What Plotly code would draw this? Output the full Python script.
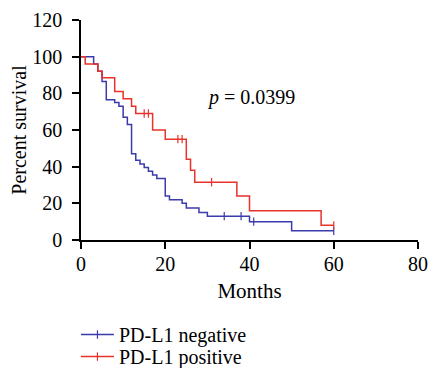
import plotly.graph_objects as go

# Kaplan-Meier step data (months, percent survival)
neg_times = [0, 3, 4, 5, 6, 8, 9, 10, 11, 12, 13, 14, 15, 16, 17, 18, 20, 21, 24, 25, 28, 30, 40, 50, 60]
neg_surv = [100, 96, 92, 86.5, 76.5, 75, 73, 67, 63, 47, 43.5, 41.5, 39.5, 37.5, 35.5, 33.5, 24, 22, 20, 17.5, 15, 13, 10, 5, 5]
neg_censored = [34, 38, 41, 60]

pos_times = [0, 1, 4, 5, 8, 10, 12, 13, 17, 20, 25, 26, 27, 37, 40, 57, 60]
pos_surv = [100, 96, 92, 88.5, 81, 77, 73, 69, 60, 55, 44, 38, 31.5, 24, 16, 8, 8]
pos_censored = [15, 16, 23, 24, 31, 60]

x_ticks = [0, 20, 40, 60, 80]
y_ticks = [0, 20, 40, 60, 80, 100, 120]

BLUE = "#3b3bab"
RED = "#e8322b"
FONT = "Liberation Serif"
FS = 20


def level_at(times, surv, t):
    val = surv[0]
    for ti, si in zip(times, surv):
        if ti <= t:
            val = si
    return val


fig = go.Figure()

for name, times, surv, cens, color, leg in [
    ("PD-L1 negative", neg_times, neg_surv, neg_censored, BLUE, "legend"),
    ("PD-L1 positive", pos_times, pos_surv, pos_censored, RED, "legend2"),
]:
    fig.add_trace(go.Scatter(
        x=times, y=surv, mode="lines", line=dict(color=color, width=1.5, shape="hv"),
        showlegend=False, hoverinfo="skip"))
    fig.add_trace(go.Scatter(
        x=cens, y=[level_at(times, surv, t) for t in cens], mode="markers",
        marker=dict(symbol="line-ns", size=6, line=dict(color=color, width=1.2)),
        showlegend=False, hoverinfo="skip"))
    fig.add_trace(go.Scatter(
        x=[None], y=[None], mode="lines+markers", name=name, legend=leg,
        line=dict(color=color, width=1.5),
        marker=dict(symbol="line-ns", size=6, line=dict(color=color, width=1.2))))

fig.add_annotation(x=29.5, y=78, xref="x", yref="y", text="<i>p</i> = 0.0399",
                   showarrow=False, xanchor="left", yanchor="middle",
                   font=dict(family=FONT, size=FS, color="black"))

axis_common = dict(showline=True, linecolor="black", linewidth=1.5, ticks="outside",
                   ticklen=7, tickwidth=1.5, tickcolor="black", showgrid=False,
                   zeroline=False, tickfont=dict(family=FONT, size=FS, color="black"),
                   automargin=False)

legend_common = dict(x=-0.015, xanchor="left", yanchor="middle", orientation="v",
                     font=dict(family=FONT, size=20, color="black"),
                     bgcolor="rgba(0,0,0,0)", itemwidth=33)

fig.update_layout(
    width=429, height=368,
    margin=dict(l=81, r=11, t=20, b=128, autoexpand=False),
    paper_bgcolor="white", plot_bgcolor="white",
    font=dict(family=FONT, size=FS, color="black"),
    xaxis=dict(range=[0, 80], tickvals=x_ticks, ticklabelstandoff=-2,
               title=dict(text="Months", standoff=10, font=dict(family=FONT, size=21)),
               **axis_common),
    yaxis=dict(range=[0, 120], tickvals=y_ticks, ticklabelstandoff=6,
               title=dict(text="Percent survival", standoff=0, font=dict(family=FONT, size=FS)),
               **axis_common),
    legend=dict(y=-0.430, **legend_common),
    legend2=dict(y=-0.530, **legend_common),
)

fig.write_html("out.html", post_script="document.body.style.margin='0';",
               config={"displayModeBar": False})
